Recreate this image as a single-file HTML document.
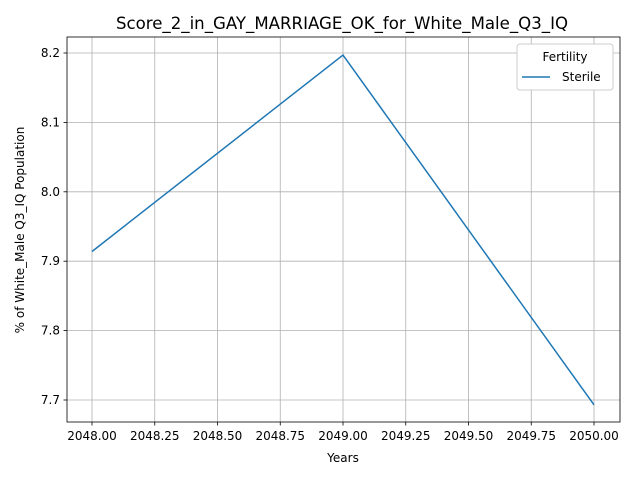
<!DOCTYPE html>
<html><head><meta charset="utf-8"><style>
body{margin:0;background:#fff;font-family:"Liberation Sans","DejaVu Sans",sans-serif;}
</style></head><body>
<svg id="chart" width="640" height="480" xmlns="http://www.w3.org/2000/svg" font-family="DejaVu Sans, Liberation Sans, sans-serif">
<rect width="640" height="480" fill="#fff"/>
<g id="grid"></g>
<g id="xticks"></g>
<g id="yticks"></g>
<g id="series"></g>
<rect x="67" y="37" width="553" height="385" fill="none" stroke="#000" stroke-width="0.8"/>
<text x="342" y="29" text-anchor="middle" font-size="16.6">Score_2_in_GAY_MARRIAGE_OK_for_White_Male_Q3_IQ</text>
<text x="343" y="462" text-anchor="middle" font-size="12">Years</text>
<text transform="translate(24,230) rotate(-90)" text-anchor="middle" font-size="12">% of White_Male Q3_IQ Population</text>
<g>
<rect x="517" y="44" width="96" height="46" rx="3" fill="#fff" stroke="#ccc" stroke-width="1"/>
<text x="565" y="61" text-anchor="middle" font-size="12">Fertility</text>
<line x1="522" y1="77" x2="550" y2="77" stroke="#1f77b4" stroke-width="1.5"/>
<text x="562" y="81" font-size="12">Sterile</text>
</g>
</svg>
<script>
const years=[2048,2049,2050];
const sterile=[7.914,8.197,7.693];
const xTickVals=[2048,2048.25,2048.5,2048.75,2049,2049.25,2049.5,2049.75,2050];
const xTickLabels=["2048.00","2048.25","2048.50","2048.75","2049.00","2049.25","2049.50","2049.75","2050.00"];
const yTickVals=[7.7,7.8,7.9,8.0,8.1,8.2];
const yTickLabels=["7.7","7.8","7.9","8.0","8.1","8.2"];
const NS="http://www.w3.org/2000/svg";
const x=v=>92+(v-2048)*251;
const y=v=>53+(8.2-v)*694;
function mk(t,a){const e=document.createElementNS(NS,t);for(const k in a)e.setAttribute(k,a[k]);return e;}
const grid=document.getElementById('grid'),xt=document.getElementById('xticks'),yt=document.getElementById('yticks');
xTickVals.forEach((v,i)=>{
 const g=mk('line',{x1:x(v),x2:x(v),y1:37,y2:422,stroke:'#b0b0b0','stroke-width':0.8});
 
 
 grid.appendChild(g);
 const t=mk('line',{x1:x(v),x2:x(v),y1:422,y2:425.5,stroke:'#000','stroke-width':0.8});
 
 
 xt.appendChild(t);
 const l=mk('text',{x:x(v),y:440,'text-anchor':'middle','font-size':12});
 
 
 l.textContent=xTickLabels[i];xt.appendChild(l);
});
yTickVals.forEach((v,i)=>{
 const g=mk('line',{x1:67,x2:620,y1:y(v),y2:y(v),stroke:'#b0b0b0','stroke-width':0.8});
 
 
 grid.appendChild(g);
 const t=mk('line',{x1:63.5,x2:67,y1:y(v),y2:y(v),stroke:'#000','stroke-width':0.8});
 
 
 yt.appendChild(t);
 const l=mk('text',{x:60,y:y(v)+4,'text-anchor':'end','font-size':12});
 
 
 l.textContent=yTickLabels[i];yt.appendChild(l);
});
const p=mk('polyline',{points:years.map((v,i)=>x(v)+','+y(sterile[i])).join(' '),fill:'none',stroke:'#1f77b4','stroke-width':1.5});


document.getElementById('series').appendChild(p);
</script>
</body></html>
